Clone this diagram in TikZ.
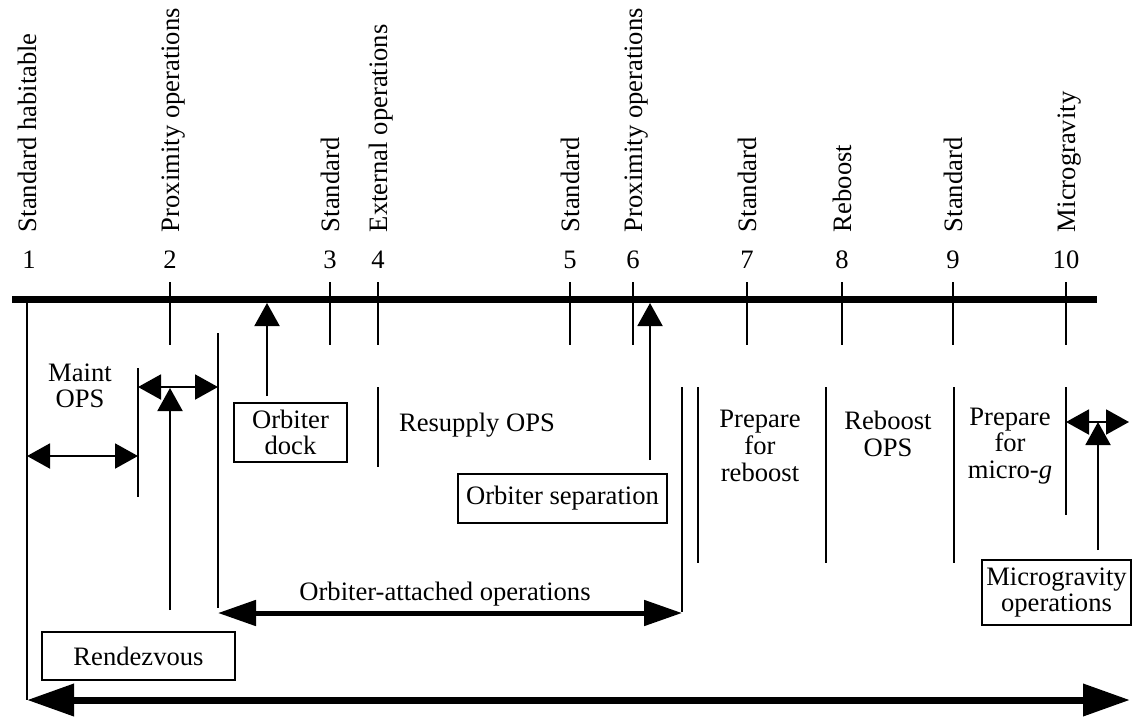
\documentclass[tikz,border=0pt]{standalone}
\usepackage{fontspec}
\setmainfont{Liberation Serif}
\usetikzlibrary{arrows.meta}
\begin{document}
\begin{tikzpicture}[x=1pt,y=-1pt,line width=2pt,
  txt/.style={font=\fontsize{26.6}{26.6}\selectfont,inner sep=0pt,align=center},
  toplbl/.style={txt,rotate=90,anchor=base west},
  numlbl/.style={txt,anchor=base},
  boxnode/.style={txt,draw,line width=2pt},
  thin/.style={line width=2pt},
  uparrow/.style={thin,-{Triangle[length=23pt,width=25pt]}},
  dblarrow/.style={thin,{Triangle[length=23pt,width=25pt]}-{Triangle[length=23pt,width=25pt]}},
  midarrow/.style={line width=5pt,{Triangle[length=38pt,width=25pt]}-{Triangle[length=38pt,width=25pt]}},
  bigarrow/.style={line width=7pt,{Triangle[length=47pt,width=31pt]}-{Triangle[length=47pt,width=31pt]}}]
\useasboundingbox (0,0) rectangle (1133,716);

% timeline bar
\coordinate (barL) at (12,299);
\coordinate (barR) at (1097,299);
\draw[line width=7pt] (barL) -- (barR);

% top labels and numbers
\foreach \n/\x/\t in {1/27/Standard habitable,2/170/Proximity operations,3/330/Standard,
  4/378/External operations,5/570/Standard,6/633/Proximity operations,7/747/Standard,
  8/842/Reboost,9/953/Standard,10/1066/Microgravity}{
  \node[toplbl] (lab\n) at (\x+9.5,233) {\t};
}
\foreach \n/\x in {1/29,2/170,3/330,4/378,5/570,6/633,7/747,8/842,9/953,10/1066}{
  \node[numlbl] (num\n) at (\x,268) {\n};
}
% ticks across the bar
\foreach \n/\x in {2/170,3/330,4/378,5/570,6/633,7/747,8/842,9/953,10/1066}{
  \coordinate (tt\n) at (\x,282);
  \coordinate (tb\n) at (\x,345);
  \draw[thin] (tt\n) -- (tb\n);
}

% long left line
\coordinate (l1t) at (27,299);
\coordinate (l1b) at (27,700);
\draw[thin] (l1t) -- (l1b);

% lower vertical lines
\coordinate (a1) at (138,368); \coordinate (a2) at (138,497);
\coordinate (b1) at (218,333); \coordinate (b2) at (218,608);
\coordinate (c1) at (378,387); \coordinate (c2) at (378,467);
\coordinate (d1) at (682,387); \coordinate (d2) at (682,612);
\coordinate (e1) at (698,387); \coordinate (e2) at (698,563);
\coordinate (f1) at (826,387); \coordinate (f2) at (826,563);
\coordinate (g1) at (954,387); \coordinate (g2) at (954,563);
\coordinate (h1) at (1066,387); \coordinate (h2) at (1066,515);
\foreach \p in {a,b,c,d,e,f,g,h}{\draw[thin] (\p1) -- (\p2);}

% text labels
\node[txt] (maint) at (80,386) {Maint\\OPS};
\node[txt] (resup) at (477,425) {Resupply OPS};
\node[txt] (prepreb) at (760,446) {Prepare\\for\\reboost};
\node[txt] (reb) at (888,434) {Reboost\\OPS};
\node[txt] (prepmg) at (1010,446) {Prepare\\for\\micro-\textit{g}};
\node[txt,anchor=base] (oatt) at (445,600) {Orbiter-attached operations};

% boxes
\node[boxnode,minimum width=113pt,minimum height=59pt] (odock) at (290.5,432.5) {Orbiter\\dock};
\node[boxnode,minimum width=209pt,minimum height=49pt] (osep) at (562.5,498.5) {Orbiter separation};
\node[boxnode,minimum width=193pt,minimum height=48pt] (rendez) at (138.5,656) {Rendezvous};
\node[boxnode,minimum width=149pt,minimum height=65pt] (mgops) at (1056.5,592.5) {Microgravity\\operations};

% up arrows
\coordinate (odS) at (267,396); \coordinate (odE) at (267,303);
\draw[uparrow] (odS) -- (odE);
\coordinate (osS) at (650,460); \coordinate (osE) at (650,303);
\draw[uparrow] (osS) -- (osE);
\coordinate (rzS) at (170,610); \coordinate (rzE) at (170,388);
\draw[uparrow] (rzS) -- (rzE);
\coordinate (mgS) at (1098,550); \coordinate (mgE) at (1098,422);
\draw[uparrow] (mgS) -- (mgE);

% double arrows
\coordinate (m1) at (27,456); \coordinate (m2) at (138,456);
\draw[dblarrow] (m1) -- (m2);
\coordinate (p1) at (138,387); \coordinate (p2) at (218,387);
\draw[dblarrow] (p1) -- (p2);
\coordinate (q1) at (1066,422); \coordinate (q2) at (1129,422);
\draw[dblarrow] (q1) -- (q2);
\coordinate (o1) at (218,613); \coordinate (o2) at (682,613);
\draw[midarrow] (o1) -- (o2);
\coordinate (bigR) at (1130,700);
\draw[bigarrow] (l1b) -- (bigR);
\end{tikzpicture}
\end{document}
